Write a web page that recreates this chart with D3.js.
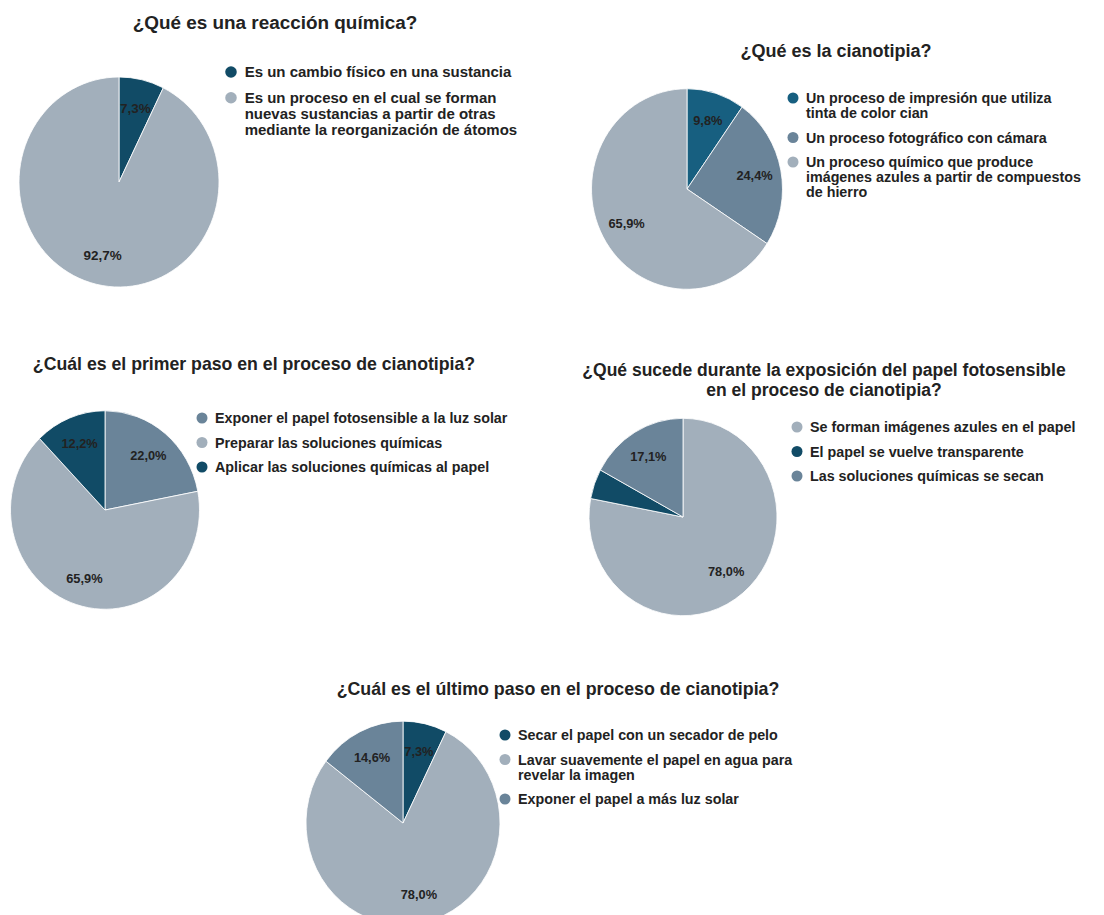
<!DOCTYPE html>
<html>
<head>
<meta charset="utf-8">
<script src="https://cdn.jsdelivr.net/npm/d3@7"></script>
<style>
  body { margin: 0; background: #fff; }
  text { font-family: 'Liberation Sans', Arial, sans-serif; font-weight: bold; fill: #222; }
</style>
</head>
<body>
<svg width="1104" height="915"></svg>
<script>
// answers to each question, in percent (41 replies)
const q1Title = ['¿Qué es una reacción química?'];
const q1Labels = [
  ['Es un cambio físico en una sustancia'],
  ['Es un proceso en el cual se forman', 'nuevas sustancias a partir de otras', 'mediante la reorganización de átomos']
];
const q1Values = [7.3, 92.7];

const q2Title = ['¿Qué es la cianotipia?'];
const q2Labels = [
  ['Un proceso de impresión que utiliza', 'tinta de color cian'],
  ['Un proceso fotográfico con cámara'],
  ['Un proceso químico que produce', 'imágenes azules a partir de compuestos', 'de hierro']
];
const q2Values = [9.8, 24.4, 65.9];

const q3Title = ['¿Cuál es el primer paso en el proceso de cianotipia?'];
const q3Labels = [
  ['Exponer el papel fotosensible a la luz solar'],
  ['Preparar las soluciones químicas'],
  ['Aplicar las soluciones químicas al papel']
];
const q3Values = [22.0, 65.9, 12.2];

const q4Title = ['¿Qué sucede durante la exposición del papel fotosensible', 'en el proceso de cianotipia?'];
const q4Labels = [
  ['Se forman imágenes azules en el papel'],
  ['El papel se vuelve transparente'],
  ['Las soluciones químicas se secan']
];
const q4Values = [78.0, 4.9, 17.1];

const q5Title = ['¿Cuál es el último paso en el proceso de cianotipia?'];
const q5Labels = [
  ['Secar el papel con un secador de pelo'],
  ['Lavar suavemente el papel en agua para', 'revelar la imagen'],
  ['Exponer el papel a más luz solar']
];
const q5Values = [7.3, 78.0, 14.6];

const DARK = '#114b66', DARK2 = '#175f80', MID = '#6a8499', LIGHT = '#a2afbb';

// where each pie sits on the page
const charts = [
  { title: q1Title, labels: q1Labels, values: q1Values, colors: [DARK, LIGHT], k: 1.05, ts: 18,
    tx: 275, ty: 29, cx: 119, cy: 182, r: 100, lx: 231, ly: 72 },
  { title: q2Title, labels: q2Labels, values: q2Values, colors: [DARK2, MID, LIGHT], k: 1, ts: 18,
    tx: 836, ty: 57, cx: 687, cy: 189, r: 95.5, lx: 793, ly: 98 },
  { title: q3Title, labels: q3Labels, values: q3Values, colors: [MID, LIGHT, DARK], k: 1, ts: 17.7,
    tx: 254, ty: 370, cx: 105, cy: 510, r: 94.5, lx: 202, ly: 418 },
  { title: q4Title, labels: q4Labels, values: q4Values, colors: [LIGHT, DARK, MID], k: 1, ts: 17.5,
    tx: 824, ty: 376, cx: 683, cy: 517, r: 94, lx: 797, ly: 427 },
  { title: q5Title, labels: q5Labels, values: q5Values, colors: [DARK, LIGHT, MID], k: 1, ts: 17.8,
    tx: 558, ty: 695, cx: 403, cy: 823, r: 97, lx: 505, ly: 735 }
];

const svg = d3.select('svg');
const fmt = v => d3.format('.1f')(v).replace('.', ',') + '%';
const stretch = 1.05; // the pies are a bit taller than wide

charts.forEach(c => {
  const g = svg.append('g');
  const k = c.k;

  // title
  g.selectAll('text.title')
    .data(c.title)
    .join('text')
    .attr('class', 'title')
    .attr('x', c.tx)
    .attr('y', (d, i) => c.ty + i * 20)
    .attr('text-anchor', 'middle')
    .style('font-size', c.ts * k + 'px')
    .text(d => d);

  // slices, starting at 12 o'clock going clockwise
  const slices = d3.pie().sort(null).value(d => d)(c.values);
  const arc = d3.arc().innerRadius(0).outerRadius(c.r);
  g.append('g')
    .attr('transform', `translate(${c.cx},${c.cy}) scale(1,${stretch})`)
    .selectAll('path')
    .data(slices)
    .join('path')
    .attr('d', arc)
    .attr('fill', (d, i) => c.colors[i])
    .attr('stroke', '#fff')
    .attr('stroke-width', 0.8);

  // percent labels (small slices get none)
  const labelArc = d3.arc().innerRadius(c.r * 0.72).outerRadius(c.r * 0.72);
  g.selectAll('text.pct')
    .data(slices.filter(d => d.data >= 5))
    .join('text')
    .attr('class', 'pct')
    .attr('x', d => c.cx + labelArc.centroid(d)[0])
    .attr('y', d => c.cy + labelArc.centroid(d)[1] * stretch)
    .attr('dy', '0.36em')
    .attr('text-anchor', 'middle')
    .style('font-size', 12.8 * k + 'px')
    .text(d => fmt(d.data));

  // legend
  const lh = 15 * k, gap = 24.5 * k;
  let y = c.ly;
  c.labels.forEach((lines, i) => {
    g.append('circle')
      .attr('cx', c.lx)
      .attr('cy', y)
      .attr('r', 5.5 * k)
      .attr('fill', c.colors[i]);
    lines.forEach((ln, j) => {
      g.append('text')
        .attr('x', c.lx + 13 * k)
        .attr('y', y + j * lh)
        .attr('dy', '0.36em')
        .style('font-size', 14.3 * k + 'px')
        .text(ln);
    });
    y += (lines.length - 1) * lh + gap;
  });
});
</script>
</body>
</html>
